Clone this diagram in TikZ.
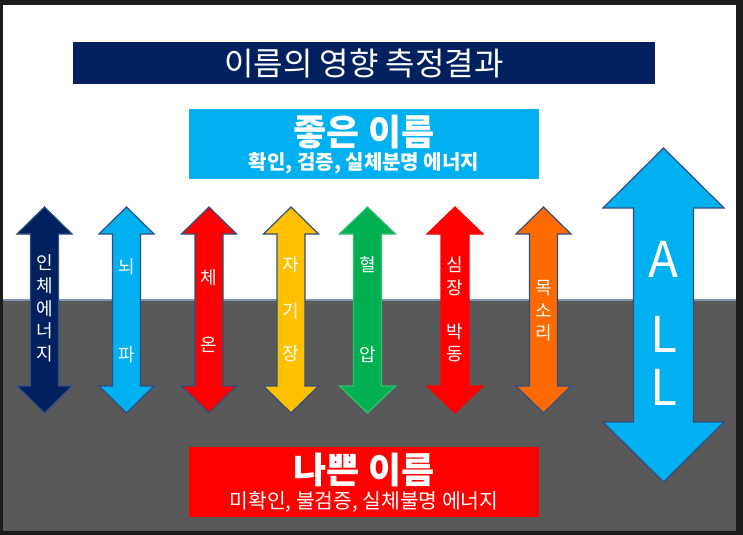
\documentclass[tikz,border=0pt]{standalone}
\usepackage{fontspec}
\setmainfont{Noto Sans CJK KR}
\definecolor{framec}{HTML}{1C1C1C}
\definecolor{groundc}{HTML}{595959}
\definecolor{linec}{HTML}{7F93B3}
\definecolor{navyc}{HTML}{002060}
\definecolor{skyc}{HTML}{00B0F0}
\definecolor{redc}{HTML}{FF0000}
\definecolor{yellowc}{HTML}{FFC000}
\definecolor{greenc}{HTML}{00B050}
\definecolor{orangec}{HTML}{FF6A00}
\definecolor{outc}{HTML}{2F4F80}
% style, cx, ytop, ybot, head half width, shaft half width, head height
\newcommand{\udarrow}[7]{%
  \draw[#1] (#2,#3) -- (#2+#5,#3+#7) -- (#2+#6,#3+#7) -- (#2+#6,#4-#7)
    -- (#2+#5,#4-#7) -- (#2,#4) -- (#2-#5,#4-#7) -- (#2-#6,#4-#7)
    -- (#2-#6,#3+#7) -- (#2-#5,#3+#7) -- cycle;}
\begin{document}
\begin{tikzpicture}[x=0.75pt,y=-0.75pt,
  arrowshape/.style={line width=0.9pt,draw=outc,line join=miter},
  vtext/.style={text=white,font=\fontsize{13.5}{13.5}\selectfont,inner sep=0pt,anchor=center},
  alltext/.style={text=white,font=\fontsize{37}{37}\selectfont,inner sep=0pt,anchor=center},
  banner/.style={inner sep=0pt,anchor=center}]
\useasboundingbox (0,0) rectangle (743,535);
\fill[framec] (0,0) rectangle (743,535);
\fill[white] (3,5) rectangle (736,300);
\fill[groundc] (3,300) rectangle (736,531);
\draw[linec,line width=0.9pt] (3,300) -- (736,300);

% title
\node[banner,fill=navyc,minimum width=436.5pt,minimum height=31.5pt,text=white,
  font=\fontsize{24}{24}\selectfont] (title) at (364,63) {이름의 영향 측정결과};

% good name box
\node[banner,fill=skyc,minimum width=262.5pt,minimum height=52.5pt] (goodbox) at (364,144) {};
\node[banner,text=white,font=\fontsize{27}{27}\bfseries\selectfont] (goodtitle) at (364,132) {좋은 이름};
\node[banner,text=white,font=\fontsize{15}{15}\bfseries\selectfont] (goodsub) at (364,163) {확인, 검증, 실체분명 에너지};

% bad name box
\node[banner,fill=redc,minimum width=262.5pt,minimum height=52.5pt] (badbox) at (364,482) {};
\node[banner,text=white,font=\fontsize{27}{27}\bfseries\selectfont] (badtitle) at (364,470) {나쁜 이름};
\node[banner,text=white,font=\fontsize{15.3}{15.3}\selectfont] (badsub) at (364,502) {미확인, 불검증, 실체불명 에너지};

% small arrows
\udarrow{arrowshape,fill=navyc}{44.5}{207}{413}{27.5}{14}{27}
\udarrow{arrowshape,fill=skyc}{126.5}{207}{413}{27.5}{14}{27}
\udarrow{arrowshape,fill=redc}{209}{207}{413}{27.5}{14}{27}
\udarrow{arrowshape,fill=yellowc}{291}{207}{413}{27.5}{14}{27}
\udarrow{arrowshape,fill=greenc,draw=greenc!80!white}{367.5}{207}{413}{28}{14}{27}
\udarrow{arrowshape,fill=redc,draw=redc}{455}{207}{413}{28}{14}{27}
\udarrow{arrowshape,fill=orangec}{543.5}{207}{413}{27.5}{14}{27}
% big arrow
\udarrow{arrowshape,fill=skyc}{663.5}{148}{482}{60.5}{30}{60}

% labels
\node[vtext] (n1a) at (44.5,263) {인};
\node[vtext] (n1b) at (44.5,286) {체};
\node[vtext] (n1c) at (44.5,309) {에};
\node[vtext] (n1d) at (44.5,331) {너};
\node[vtext] (n1e) at (44.5,354) {지};

\node[vtext] (n2a) at (126.5,267) {뇌};
\node[vtext] (n2b) at (126.5,355) {파};

\node[vtext] (n3a) at (209,278) {체};
\node[vtext] (n3b) at (209,345) {온};

\node[vtext] (n4a) at (291,265) {자};
\node[vtext] (n4b) at (291,311) {기};
\node[vtext] (n4c) at (291,354) {장};

\node[vtext] (n5a) at (367.5,265) {혈};
\node[vtext] (n5b) at (367.5,355) {압};

\node[vtext] (n6a) at (455,265) {심};
\node[vtext] (n6b) at (455,288) {장};
\node[vtext] (n6c) at (455,332) {박};
\node[vtext] (n6d) at (455,354) {동};

\node[vtext] (n7a) at (543.5,288) {목};
\node[vtext] (n7b) at (543.5,311) {소};
\node[vtext] (n7c) at (543.5,333) {리};

\node[alltext] (alla) at (663.5,259) {A};
\node[alltext] (allb) at (663.5,334) {L};
\node[alltext] (allc) at (663.5,387) {L};
\end{tikzpicture}
\end{document}
